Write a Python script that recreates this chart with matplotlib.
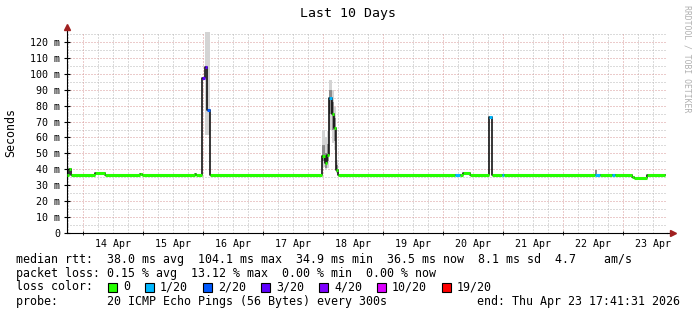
import matplotlib
matplotlib.use("Agg")
import matplotlib.pyplot as plt
from matplotlib.patches import Rectangle

W, H = 697, 315
MONO = "DejaVu Sans Mono"

# median rtt, piecewise constant: start (days since Apr 13 17:41:31), ms, lost pings of 20
seg_t = [0.0, 0.038, 0.062, 0.467, 0.633, 1.217, 1.25, 2.125, 2.158,
         2.245, 2.292, 2.325, 2.375,
         4.245, 4.3, 4.328, 4.372, 4.412, 4.455, 4.483, 4.522,
         6.467, 6.55, 6.608, 6.717, 7.033, 7.075, 7.245, 7.283,
         8.8, 8.883, 9.078, 9.133, 9.417, 9.45, 9.662]
seg_med = [36.7, 40.0, 36.7, 38.0, 36.7, 37.3, 36.7, 37.4, 36.7,
           97.4, 104.1, 77.2, 36.7,
           48.7, 43.8, 49.0, 84.5, 75.0, 65.7, 39.6, 36.7,
           36.7, 36.7, 38.0, 36.7, 73.0, 36.7, 36.7, 36.7,
           36.7, 36.7, 36.7, 36.7, 35.5, 34.9, 36.7]
seg_loss = [0, 0, 0, 0, 0, 0, 0, 0, 0,
            3, 3, 2, 0,
            0, 0, 0, 1, 0, 0, 0, 0,
            1, 0, 0, 0, 1, 0, 1, 0,
            1, 0, 1, 0, 0, 0, 0]
t_end = 9.967

# smoke (spread of the 20 pings)
smoke_t0 = [2.3, 4.245, 4.3, 4.328, 4.372, 4.412, 4.455, 4.483, 8.8]
smoke_t1 = [2.383, 4.3, 4.328, 4.372, 4.412, 4.455, 4.483, 4.522, 8.833]
smoke_lo = [61.5, 41.7, 39.6, 41.0, 64.7, 56.5, 52.0, 37.5, 36.7]
smoke_hi = [130.0, 64.7, 60.5, 64.0, 96.0, 90.0, 79.0, 46.0, 39.6]
core_lo = [61.5, 45.0, 41.0, 45.0, 75.0, 65.0, 58.0, 38.5, 36.7]
core_hi = [61.5, 55.0, 50.0, 56.0, 90.0, 82.0, 72.0, 43.0, 39.6]

first_midnight = 0.2628  # Apr 14 00:00
day_labels = ["14 Apr", "15 Apr", "16 Apr", "17 Apr", "18 Apr",
              "19 Apr", "20 Apr", "21 Apr", "22 Apr", "23 Apr"]

loss_keys = ["0", "1/20", "2/20", "3/20", "4/20", "10/20", "19/20"]
loss_cols = ["#26ff00", "#00b8ff", "#0059ff", "#5e00ff", "#7e00ff", "#dd00ff", "#ff0000"]


def loss_color(n):
    if n >= 19:
        return loss_cols[6]
    if n >= 10:
        return loss_cols[5]
    if n >= 4:
        return loss_cols[4]
    return loss_cols[n]


def fx(x):
    return x / W


def fy(y):
    return 1 - y / H


fig = plt.figure(figsize=(W / 100, H / 100), dpi=100)
y0, y_top = 233.3, 32.1
ax = fig.add_axes([fx(67), fy(y0), 600 / W, (y0 - y_top) / H])
ax.set_xlim(0, 10)
ax.set_ylim(0, 126)

# grid
dots = (0, (1, 2))
minor_c, major_c = "#b8b8b8", "#d89898"
for k in range(40):
    xv = first_midnight - 0.25 + k * 0.25
    if 0 < xv < 10 and k % 4 != 1:
        ax.axvline(xv, color=minor_c, lw=0.72, ls=dots, zorder=0)
for v in range(5, 126, 10):
    ax.axhline(v, color=minor_c, lw=0.72, ls=dots, zorder=0)
for k in range(10):
    ax.axvline(first_midnight + k, color=major_c, lw=0.72, ls=dots, zorder=0)
for v in range(10, 121, 10):
    ax.axhline(v, color=major_c, lw=0.72, ls=dots, zorder=0)

# smoke
for a, b, lo, hi, clo, chi in zip(smoke_t0, smoke_t1, smoke_lo, smoke_hi, core_lo, core_hi):
    ax.fill_between([a, b], lo, hi, color="#d4d4d4", lw=0, zorder=1)
    if chi > clo:
        ax.fill_between([a, b], clo, chi, color="#8c8c8c", lw=0, zorder=1)

# median
ax.step(seg_t + [t_end], seg_med + [seg_med[-1]], where="post", color="black", lw=1.1, zorder=2)
seg_end = seg_t[1:] + [t_end]
ax.hlines(seg_med, seg_t, seg_end, colors=[loss_color(n) for n in seg_loss],
          lw=2.2, zorder=3, capstyle="butt")

# axes
for s in ["top", "right"]:
    ax.spines[s].set_visible(False)
ax.spines["left"].set_color("black")
ax.spines["bottom"].set_color("black")
ax.spines["left"].set_linewidth(0.8)
ax.spines["bottom"].set_linewidth(0.8)
ax.plot([0, 0], [1, 1.02], transform=ax.transAxes, color="black", lw=0.8, clip_on=False)
ax.plot([1, 1.008], [0, 0], transform=ax.transAxes, color="black", lw=0.8, clip_on=False)
ax.plot([0], [1.025], marker="^", ms=4, color="#a02020", transform=ax.transAxes, clip_on=False)
ax.plot([1.01], [0], marker=">", ms=4, color="#a02020", transform=ax.transAxes, clip_on=False)

yt = list(range(0, 121, 10))
ax.set_yticks(yt, ["0"] + ["%d m" % v for v in yt[1:]])
ax.set_xticks([first_midnight + k for k in range(10)], [""] * 10)
ax.set_xticks([first_midnight + k + 0.5 for k in range(10)], day_labels, minor=True)
ax.tick_params(axis="y", direction="inout", length=4, width=0.8, pad=3, labelsize=7.2)
ax.tick_params(axis="x", which="major", direction="inout", length=3, width=0.6)
ax.tick_params(axis="x", which="minor", length=0, pad=4, labelsize=7.2)
for lab in ax.get_xticklabels(minor=True) + ax.get_yticklabels():
    lab.set_family(MONO)

# texts
fig.text(fx(348), fy(14), "Last 10 Days", ha="center", va="center", family=MONO, size=9.5)
fig.text(fx(11), fy(132), "Seconds", ha="center", va="center", rotation=90, family=MONO, size=8.4)
fig.text(fx(687), fy(5), "RRDTOOL / TOBI OETIKER", ha="center", va="top", rotation=270,
         family=MONO, size=5.9, color="#b0b0b0")

fs = 8.4
fig.text(fx(16), fy(259), "median rtt:  38.0 ms avg  104.1 ms max  34.9 ms min  36.5 ms now  8.1 ms sd  4.7    am/s",
         va="center", family=MONO, size=fs)
fig.text(fx(16), fy(273), "packet loss: 0.15 % avg  13.12 % max  0.00 % min  0.00 % now",
         va="center", family=MONO, size=fs)
fig.text(fx(16), fy(287), "loss color:", va="center", family=MONO, size=fs)
bx = 108
for key, col in zip(loss_keys, loss_cols):
    fig.patches.append(Rectangle((fx(bx), fy(291.5)), 9 / W, 9 / H, transform=fig.transFigure,
                                 facecolor=col, edgecolor="black", lw=0.8))
    fig.text(fx(bx + 15), fy(287), key, va="center", family=MONO, size=fs)
    bx += 30 + 7 * len(key)
fig.text(fx(16), fy(301), "probe:       20 ICMP Echo Pings (56 Bytes) every 300s",
         va="center", family=MONO, size=fs)
fig.text(fx(680), fy(301), "end: Thu Apr 23 17:41:31 2026", ha="right", va="center", family=MONO, size=fs)

fig.savefig("out.png", dpi=100, facecolor="white")
